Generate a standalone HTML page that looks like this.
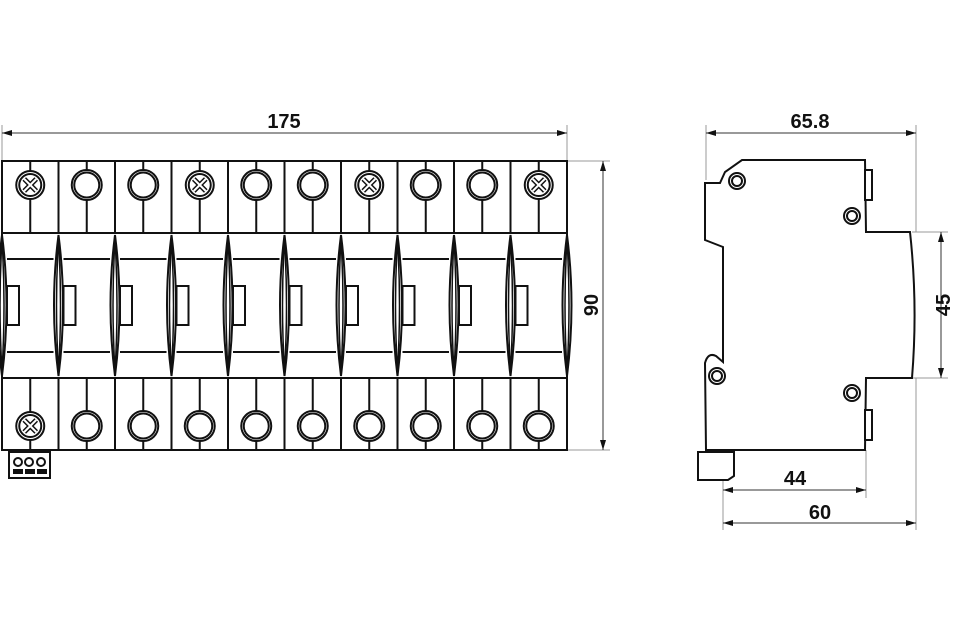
<!DOCTYPE html>
<html><head><meta charset="utf-8"><style>
html,body{margin:0;padding:0;background:#fff;}
svg{display:block;}
text{font-family:"Liberation Sans",Arial,sans-serif;font-weight:bold;font-size:20px;fill:#111;}
</style></head><body>
<svg id="s" width="960" height="640" viewBox="0 0 960 640" xmlns="http://www.w3.org/2000/svg">
<defs>
<marker id="a" viewBox="0 0 10 6" refX="10" refY="3" markerWidth="10" markerHeight="6" orient="auto-start-reverse" markerUnits="userSpaceOnUse"><path d="M0,0 L10,3 L0,6 z" fill="#111"/></marker>
</defs>
<g stroke="#999" stroke-width="1" fill="none">
<line x1="2" y1="125" x2="2" y2="160"/><line x1="567" y1="125" x2="567" y2="160"/>
<line x1="567" y1="161" x2="610" y2="161"/><line x1="567" y1="450" x2="610" y2="450"/>
<line x1="706" y1="125" x2="706" y2="180"/><line x1="916" y1="125" x2="916" y2="232"/>
<line x1="912" y1="232" x2="948" y2="232"/><line x1="912" y1="378" x2="948" y2="378"/>
<line x1="723" y1="450" x2="723" y2="530"/><line x1="866" y1="450" x2="866" y2="498"/><line x1="916" y1="378" x2="916" y2="530"/>
</g>
<g stroke="#333" stroke-width="1" fill="none">
<line x1="2" y1="133" x2="567" y2="133" marker-start="url(#a)" marker-end="url(#a)"/>
<line x1="603" y1="161" x2="603" y2="450" marker-start="url(#a)" marker-end="url(#a)"/>
<line x1="706" y1="133" x2="916" y2="133" marker-start="url(#a)" marker-end="url(#a)"/>
<line x1="941" y1="232" x2="941" y2="378" marker-start="url(#a)" marker-end="url(#a)"/>
<line x1="723" y1="490" x2="866" y2="490" marker-start="url(#a)" marker-end="url(#a)"/>
<line x1="723" y1="523" x2="916" y2="523" marker-start="url(#a)" marker-end="url(#a)"/>
</g>
<text x="284" y="128" text-anchor="middle">175</text>
<text x="810" y="128" text-anchor="middle">65.8</text>
<text x="795" y="485" text-anchor="middle">44</text>
<text x="820" y="519" text-anchor="middle">60</text>
<text transform="translate(598,305) rotate(-90)" text-anchor="middle">90</text>
<text transform="translate(950,305) rotate(-90)" text-anchor="middle">45</text>
<g id="L" stroke="#111" stroke-width="2" fill="#fff"></g>
<g stroke="#111" stroke-width="2" fill="#fff">
<path d="M742,160 L865,160 L866,232 L910,232 Q918,305 912,378 L866,378 L865,450 L706,450 L705,363 Q708,352 716,356 L723,362 L723,247 L705,240 L705,183 L720,183 L725,172 Z"/>
<rect x="865" y="170" width="7" height="30" fill="#fff"/>
<rect x="865" y="410" width="7" height="30" fill="#fff"/>
<path d="M698,452 L734,452 L734,476 L728,480 L698,480 Z"/>
<circle cx="737" cy="181" r="8"/><circle cx="737" cy="181" r="5"/>
<circle cx="852" cy="216" r="8"/><circle cx="852" cy="216" r="5"/>
<circle cx="717" cy="376" r="8"/><circle cx="717" cy="376" r="5"/>
<circle cx="852" cy="393" r="8"/><circle cx="852" cy="393" r="5"/>
<rect x="9" y="452" width="41" height="26"/>
<circle cx="18" cy="462" r="4"/><circle cx="29" cy="462" r="4"/><circle cx="41" cy="462" r="4"/>
<rect x="14" y="470" width="8" height="3" fill="#111"/><rect x="26" y="470" width="8" height="3" fill="#111"/><rect x="38" y="470" width="8" height="3" fill="#111"/>
</g>
</svg>
<script>
var g=document.getElementById('L'),h='';
var x0=2,w=56.5,screwTop=[0,3,6,9],screwBot=[0];
h+='<rect x="2" y="161" width="565" height="289"/>';
h+='<line x1="2" y1="233" x2="567" y2="233"/><line x1="2" y1="378" x2="567" y2="378"/>';
function scr(cx,cy){return '<circle cx="'+cx+'" cy="'+cy+'" r="14"/><circle cx="'+cx+'" cy="'+cy+'" r="11"/>'+
'<path d="M'+(cx-6)+','+(cy-6)+' L'+(cx+6)+','+(cy+6)+' M'+(cx+6)+','+(cy-6)+' L'+(cx-6)+','+(cy+6)+'" stroke-width="5" stroke="#111"/>'+
'<path d="M'+(cx-6)+','+(cy-6)+' L'+(cx+6)+','+(cy+6)+' M'+(cx+6)+','+(cy-6)+' L'+(cx-6)+','+(cy+6)+'" stroke-width="2" stroke="#fff"/>';}
function ring(cx,cy){return '<circle cx="'+cx+'" cy="'+cy+'" r="15"/><circle cx="'+cx+'" cy="'+cy+'" r="12.5"/>';}
for(var i=0;i<10;i++){
 var l=x0+i*w,r=l+w,c=l+w/2;
 if(i>0) h+='<line x1="'+l+'" y1="161" x2="'+l+'" y2="233"/><line x1="'+l+'" y1="378" x2="'+l+'" y2="450"/>';
 h+='<line x1="'+c+'" y1="161" x2="'+c+'" y2="233"/><line x1="'+c+'" y1="378" x2="'+c+'" y2="450"/>';
 h+=(screwTop.indexOf(i)>=0?scr(c,185):ring(c,185));
 h+=(screwBot.indexOf(i)>=0?scr(c,426):ring(c,426));
 h+='<line x1="'+(l+5)+'" y1="259" x2="'+(r-5)+'" y2="259"/><line x1="'+(l+5)+'" y1="352" x2="'+(r-5)+'" y2="352"/>';
 h+='<rect x="'+(l+5)+'" y="286" width="12" height="39"/>';
}
for(var i=0;i<=10;i++){
 var x=x0+i*w;
 h+='<path d="M'+x+',235 Q'+(x+9)+',305 '+x+',376 Q'+(x-9)+',305 '+x+',235 Z"/>';
 h+='<path d="M'+x+',240 Q'+(x+4)+',305 '+x+',371 Q'+(x-4)+',305 '+x+',240 Z" stroke-width="1.5"/>';
}
g.innerHTML=h;
</script>
</body></html>
